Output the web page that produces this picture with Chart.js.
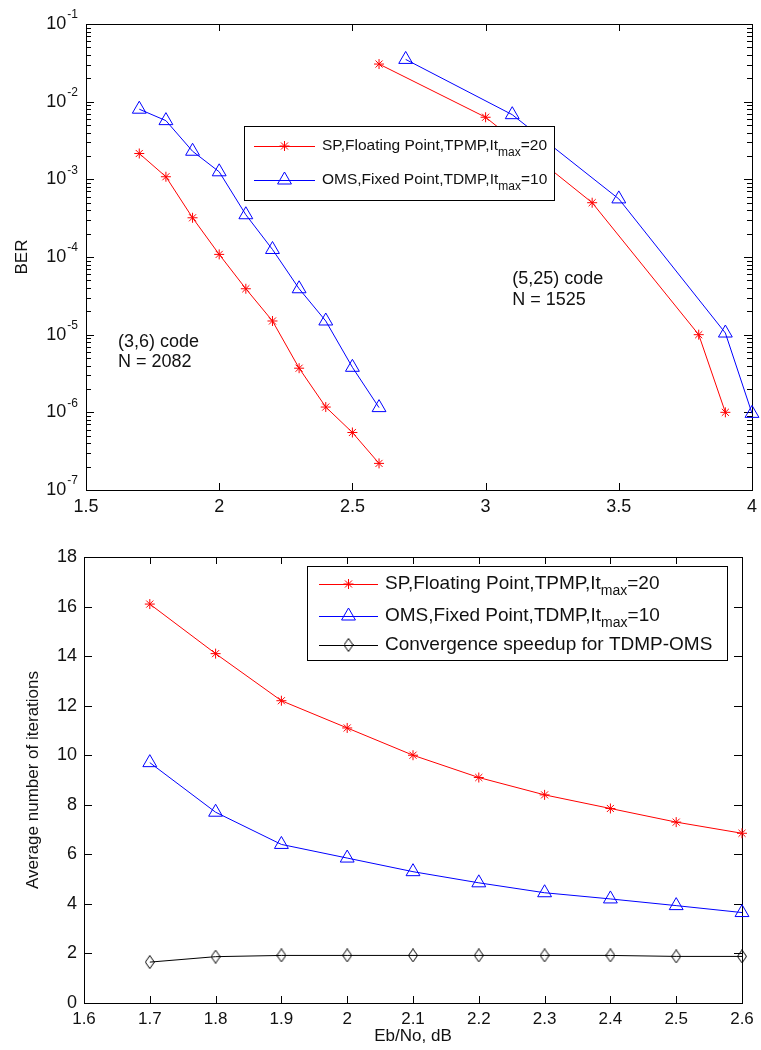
<!DOCTYPE html>
<html>
<head>
<meta charset="utf-8">
<script src="https://cdn.jsdelivr.net/npm/chart.js"></script>
<style>
    body { margin: 0; background: #fff; }
    #wrap { position: relative; width: 761px; height: 1050px; }
    canvas { position: absolute; left: 0; }
    #ber { top: 0; }
    #iter { top: 520px; }
</style>
</head>
<body>
<div id="wrap">
    <canvas id="ber" width="761" height="520"></canvas>
    <canvas id="iter" width="761" height="530"></canvas>
</div>
<script>
(function () {
    'use strict';

    // (3,6) code, N = 2082
    var ebN0Short = [1.7, 1.8, 1.9, 2.0, 2.1, 2.2, 2.3, 2.4, 2.5, 2.6];
    var berSp36 = [2.15e-3, 1.08e-3, 3.2e-4, 1.08e-4, 3.9e-5, 1.5e-5, 3.7e-6, 1.17e-6, 5.5e-7, 2.2e-7];
    var berOms36 = [8.0e-3, 5.7e-3, 2.3e-3, 1.25e-3, 3.5e-4, 1.25e-4, 3.9e-5, 1.5e-5, 3.8e-6, 1.15e-6];

    // (5,25) code, N = 1525
    var ebN0Sp525 = [2.6, 3.0, 3.4, 3.8, 3.9];
    var berSp525 = [3.05e-2, 6.3e-3, 5.0e-4, 1.0e-5, 1.0e-6];
    var ebN0Oms525 = [2.7, 3.1, 3.5, 3.9, 4.0];
    var berOms525 = [3.5e-2, 6.8e-3, 5.6e-4, 1.05e-5, 0.97e-6];

    // average iterations, (3,6) code
    var iterSp = [16.1, 14.1, 12.2, 11.1, 10.0, 9.1, 8.4, 7.85, 7.3, 6.85];
    var iterOms = [9.7, 7.7, 6.4, 5.85, 5.3, 4.85, 4.45, 4.2, 3.93, 3.65];
    var iterSpeedup = [1.65, 1.87, 1.92, 1.92, 1.92, 1.92, 1.92, 1.92, 1.88, 1.88];

    var berXTicks = [1.5, 2, 2.5, 3, 3.5, 4];
    var berDecades = [-7, -6, -5, -4, -3, -2, -1];
    var iterXTicks = [1.6, 1.7, 1.8, 1.9, 2, 2.1, 2.2, 2.3, 2.4, 2.5, 2.6];
    var iterYTicks = [0, 2, 4, 6, 8, 10, 12, 14, 16, 18];

    var legendNames = ['SP,Floating Point,TPMP,It', 'OMS,Fixed Point,TDMP,It', 'Convergence speedup for TDMP-OMS'];
    var legendSubs = ['max', 'max', ''];
    var legendTails = ['=20', '=10', ''];

    var FONT = '"Liberation Sans", Arial, Helvetica, sans-serif';
    var RED = '#ff0000', BLUE = '#0000ff', BLACK = '#000000';

    function xy(xs, ys) {
        return xs.map(function (x, i) { return { x: x, y: ys[i] }; });
    }

    function makeDiamond(w, h) {
        var c = document.createElement('canvas');
        c.width = w;
        c.height = h;
        var g = c.getContext('2d');
        g.strokeStyle = BLACK;
        g.lineWidth = 1;
        g.beginPath();
        g.moveTo(w / 2, 0.5);
        g.lineTo(w - 0.5, h / 2);
        g.lineTo(w / 2, h - 0.5);
        g.lineTo(0.5, h / 2);
        g.closePath();
        g.stroke();
        return c;
    }
    var diamond = makeDiamond(10, 14);

    function line(label, data, color, style, r) {
        return {
            label: label,
            data: data,
            borderColor: color,
            backgroundColor: 'transparent',
            borderWidth: 1,
            pointStyle: style,
            pointRadius: r,
            pointBorderColor: color,
            pointBackgroundColor: 'transparent',
            pointBorderWidth: 1,
            tension: 0,
            clip: false
        };
    }

    function drawMarker(ctx, style, color, x, y, r) {
        ctx.strokeStyle = color;
        ctx.lineWidth = 1;
        ctx.beginPath();
        if (style === 'star') {
            for (var k = 0; k < 4; k++) {
                var a = k * Math.PI / 4;
                ctx.moveTo(x - Math.cos(a) * r, y - Math.sin(a) * r);
                ctx.lineTo(x + Math.cos(a) * r, y + Math.sin(a) * r);
            }
            ctx.stroke();
        } else if (style === 'triangle') {
            var rad = 0;
            ctx.moveTo(x + Math.sin(rad) * r, y - Math.cos(rad) * r);
            rad += Math.PI * 2 / 3;
            ctx.lineTo(x + Math.sin(rad) * r, y - Math.cos(rad) * r);
            rad += Math.PI * 2 / 3;
            ctx.lineTo(x + Math.sin(rad) * r, y - Math.cos(rad) * r);
            ctx.closePath();
            ctx.stroke();
        } else {
            ctx.drawImage(style, x - style.width / 2, y - style.height / 2);
        }
    }

    // box, inward ticks on all four sides, 10^n labels
    var matlabAxes = {
        id: 'matlabAxes',
        beforeDatasetsDraw: function (chart, args, opts) {
            var ctx = chart.ctx, a = chart.chartArea, xs = chart.scales.x, ys = chart.scales.y;
            ctx.save();
            ctx.strokeStyle = '#000';
            ctx.lineWidth = 1;
            ctx.strokeRect(a.left + 0.5, a.top + 0.5, a.right - a.left, a.bottom - a.top);
            ctx.beginPath();
            xs.ticks.forEach(function (t) {
                var px = Math.round(xs.getPixelForValue(t.value)) + 0.5;
                ctx.moveTo(px, a.bottom);
                ctx.lineTo(px, a.bottom - 7);
                ctx.moveTo(px, a.top);
                ctx.lineTo(px, a.top + 7);
            });
            ys.ticks.forEach(function (t) {
                var py = Math.round(ys.getPixelForValue(t.value)) + 0.5;
                var len = (opts.log && !t.major) ? 5 : 8;
                ctx.moveTo(a.left, py);
                ctx.lineTo(a.left + len, py);
                ctx.moveTo(a.right, py);
                ctx.lineTo(a.right - len, py);
            });
            ctx.stroke();

            if (opts.log) {
                ctx.fillStyle = '#111';
                ctx.textBaseline = 'middle';
                ys.ticks.forEach(function (t) {
                    if (!t.major) return;
                    var py = ys.getPixelForValue(t.value);
                    var sup = String(Math.round(Math.log10(t.value)));
                    ctx.font = '12px ' + FONT;
                    ctx.textAlign = 'right';
                    var supW = ctx.measureText(sup).width;
                    ctx.fillText(sup, a.left - 8, py - 9);
                    ctx.font = '18px ' + FONT;
                    ctx.fillText('10', a.left - 9 - supW, py);
                });
            }
            ctx.restore();
        },
        afterDatasetsDraw: function (chart, args, opts) {
            var ctx = chart.ctx, a = chart.chartArea;
            var xs = chart.scales.x, ys = chart.scales.y;
            ctx.save();
            (opts.notes || []).forEach(function (n) {
                ctx.font = n.size + 'px ' + FONT;
                ctx.fillStyle = '#111';
                ctx.textAlign = 'left';
                ctx.textBaseline = 'middle';
                ctx.fillText(n.text, xs.getPixelForValue(n.x), ys.getPixelForValue(n.y));
            });

            var lg = opts.legend;
            if (lg) {
                var bx = a.left + lg.left, by = a.top + lg.top;
                ctx.fillStyle = '#fff';
                ctx.fillRect(bx, by, lg.width, lg.height);
                ctx.strokeStyle = '#000';
                ctx.lineWidth = 1;
                ctx.strokeRect(bx + 0.5, by + 0.5, lg.width, lg.height);
                chart.data.datasets.forEach(function (ds, i) {
                    if (i >= lg.rows.length) return;
                    var ry = by + lg.rows[i];
                    var x0 = bx + lg.sample[0], x1 = bx + lg.sample[1];
                    ctx.strokeStyle = ds.borderColor;
                    ctx.beginPath();
                    ctx.moveTo(x0, ry + 0.5);
                    ctx.lineTo(x1, ry + 0.5);
                    ctx.stroke();
                    drawMarker(ctx, ds.pointStyle, ds.borderColor, (x0 + x1) / 2, ry, ds.pointRadius);

                    var tx = bx + lg.textX;
                    ctx.fillStyle = '#111';
                    ctx.textAlign = 'left';
                    ctx.textBaseline = 'middle';
                    ctx.font = lg.size + 'px ' + FONT;
                    ctx.fillText(legendNames[i], tx, ry);
                    tx += ctx.measureText(legendNames[i]).width;
                    if (legendSubs[i]) {
                        ctx.font = lg.subSize + 'px ' + FONT;
                        ctx.fillText(legendSubs[i], tx, ry + 7);
                        tx += ctx.measureText(legendSubs[i]).width;
                        ctx.font = lg.size + 'px ' + FONT;
                        ctx.fillText(legendTails[i], tx, ry);
                    }
                });
            }
            ctx.restore();
        }
    };

    function fixWidth(w) {
        return function (scale) { scale.width = w; };
    }
    function fixHeight(h) {
        return function (scale) {
            scale.height = h;
            scale.paddingLeft = 0;
            scale.paddingRight = 0;
        };
    }
    function setTicks(values) {
        return function (scale) {
            scale.ticks = values.map(function (v) { return { value: v }; });
        };
    }

    // top: BER versus Eb/No
    new Chart(document.getElementById('ber'), {
        type: 'line',
        data: {
            datasets: [
                line('SP 36', xy(ebN0Short, berSp36), RED, 'star', 5),
                line('OMS 36', xy(ebN0Short, berOms36), BLUE, 'triangle', 8),
                line('SP 525', xy(ebN0Sp525, berSp525), RED, 'star', 5),
                line('OMS 525', xy(ebN0Oms525, berOms525), BLUE, 'triangle', 8)
            ]
        },
        options: {
            responsive: false,
            animation: false,
            devicePixelRatio: 1,
            layout: { padding: { left: 0, top: 24, right: 3, bottom: 0 } },
            plugins: {
                legend: { display: false },
                tooltip: { enabled: false },
                matlabAxes: {
                    log: true,
                    legend: {
                        left: 158, top: 102, width: 310, height: 74,
                        rows: [20, 54], sample: [10, 71], textX: 78,
                        size: 15.5, subSize: 12
                    },
                    notes: [
                        { text: '(3,6) code', x: 1.62, y: 8.1e-6, size: 18 },
                        { text: 'N = 2082', x: 1.62, y: 4.5e-6, size: 18 },
                        { text: '(5,25) code', x: 3.1, y: 5.2e-5, size: 18 },
                        { text: 'N = 1525', x: 3.1, y: 2.8e-5, size: 18 }
                    ]
                }
            },
            scales: {
                x: {
                    type: 'linear',
                    min: 1.5,
                    max: 4,
                    afterBuildTicks: setTicks(berXTicks),
                    afterFit: fixHeight(30),
                    grid: { display: false, drawTicks: false },
                    border: { display: false },
                    ticks: {
                        padding: 6,
                        color: '#111',
                        font: { family: FONT, size: 18 },
                        maxRotation: 0,
                        callback: function (v) { return String(v); }
                    }
                },
                y: {
                    type: 'logarithmic',
                    min: 1e-7,
                    max: 1e-1,
                    afterBuildTicks: function (scale) {
                        var t = [];
                        berDecades.forEach(function (e) {
                            var base = Math.pow(10, e);
                            t.push({ value: base, major: true });
                            if (e < -1) {
                                for (var m = 2; m <= 9; m++) t.push({ value: m * base, major: false });
                            }
                        });
                        scale.ticks = t;
                    },
                    afterFit: fixWidth(86),
                    grid: { display: false, drawTicks: false },
                    border: { display: false },
                    ticks: { display: false },
                    title: {
                        display: true,
                        text: 'BER',
                        color: '#111',
                        font: { family: FONT, size: 17 },
                        padding: { top: 12, bottom: 0 }
                    }
                }
            }
        },
        plugins: [matlabAxes]
    });

    // bottom: average number of iterations
    new Chart(document.getElementById('iter'), {
        type: 'line',
        data: {
            datasets: [
                line('SP', xy(ebN0Short, iterSp), RED, 'star', 5),
                line('OMS', xy(ebN0Short, iterOms), BLUE, 'triangle', 8),
                line('Speedup', xy(ebN0Short, iterSpeedup), BLACK, diamond, 6)
            ]
        },
        options: {
            responsive: false,
            animation: false,
            devicePixelRatio: 1,
            layout: { padding: { left: 0, top: 37, right: 19, bottom: 0 } },
            plugins: {
                legend: { display: false },
                tooltip: { enabled: false },
                matlabAxes: {
                    log: false,
                    legend: {
                        left: 223, top: 9, width: 420, height: 94,
                        rows: [18, 50, 79], sample: [12, 71], textX: 78,
                        size: 19, subSize: 14
                    }
                }
            },
            scales: {
                x: {
                    type: 'linear',
                    min: 1.6,
                    max: 2.6,
                    afterBuildTicks: setTicks(iterXTicks),
                    afterFit: fixHeight(47),
                    grid: { display: false, drawTicks: false },
                    border: { display: false },
                    ticks: {
                        padding: 6,
                        color: '#111',
                        font: { family: FONT, size: 17 },
                        maxRotation: 0,
                        callback: function (v) { return String(v); }
                    },
                    title: {
                        display: true,
                        text: 'Eb/No, dB',
                        color: '#111',
                        font: { family: FONT, size: 17 },
                        padding: { top: 0, bottom: 3 }
                    }
                },
                y: {
                    type: 'linear',
                    min: 0,
                    max: 18,
                    afterBuildTicks: setTicks(iterYTicks),
                    afterFit: fixWidth(84),
                    grid: { display: false, drawTicks: false },
                    border: { display: false },
                    ticks: {
                        padding: 7,
                        color: '#111',
                        font: { family: FONT, size: 18 },
                        callback: function (v) { return String(v); }
                    },
                    title: {
                        display: true,
                        text: 'Average number of iterations',
                        color: '#111',
                        font: { family: FONT, size: 17 },
                        padding: { top: 23, bottom: 0 }
                    }
                }
            }
        },
        plugins: [matlabAxes]
    });
})();
</script>
</body>
</html>
